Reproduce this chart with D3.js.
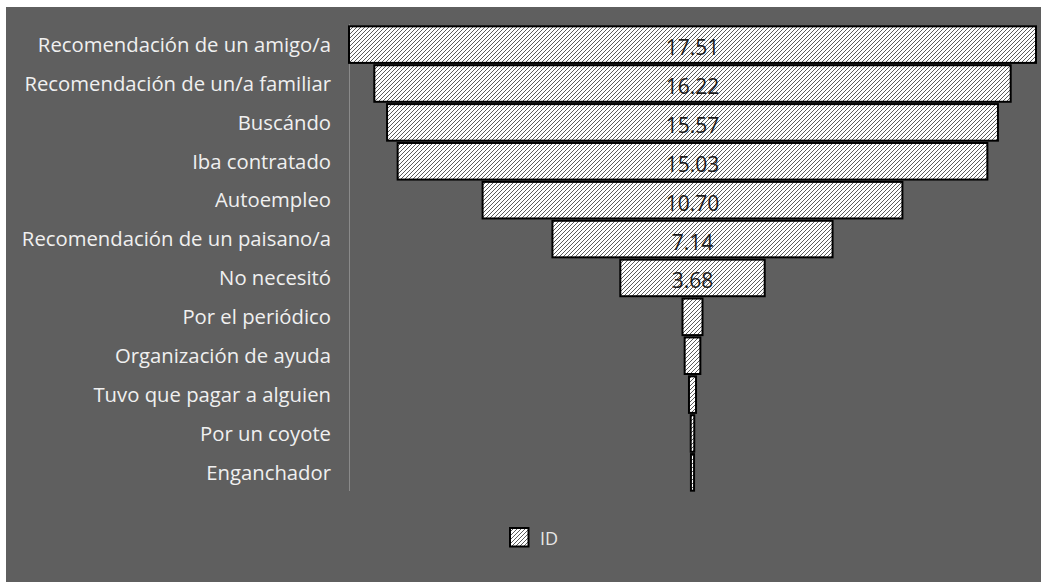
<!DOCTYPE html>
<html>
<head>
<meta charset="utf-8">
<script src="https://cdn.jsdelivr.net/npm/d3@7"></script>
<style>
  body { margin: 0; background: #ffffff; }
  svg text { font-family: "Open Sans", "Noto Sans", sans-serif; }
</style>
</head>
<body>
<div id="chart"></div>
<script>
// categories, top to bottom
var categories = [
    "Recomendación de un amigo/a",
    "Recomendación de un/a familiar",
    "Buscándo",
    "Iba contratado",
    "Autoempleo",
    "Recomendación de un paisano/a",
    "No necesitó",
    "Por el periódico",
    "Organización de ayuda",
    "Tuvo que pagar a alguien",
    "Por un coyote",
    "Enganchador"
];

// series "ID" values (small ones)
var values = [17.51, 16.22, 15.57, 15.03, 10.70, 7.14, 3.68, 0.51, 0.40, 0.18, 0.09, 0.08];

var seriesName = "ID";

var data = categories.map(function (c, i) { return { cat: c, value: values[i] }; });

var W = 1043, H = 582;
var margin = { top: 24, left: 349, right: 7, bottom: 89 };

var svg = d3.select("#chart").append("svg")
    .attr("width", W)
    .attr("height", H);

// hatch pattern
var defs = svg.append("defs");
var pat = defs.append("pattern")
    .attr("id", "hatch")
    .attr("patternUnits", "userSpaceOnUse")
    .attr("width", 4)
    .attr("height", 4);
pat.append("rect").attr("width", 4).attr("height", 4).attr("fill", "#ffffff");
pat.append("path")
    .attr("d", "M-1,1 l2,-2 M0,4 l4,-4 M3,5 l2,-2")
    .attr("stroke", "#4a4a4a")
    .attr("stroke-width", 0.9);

// chart background
svg.append("rect")
    .attr("x", 6).attr("y", 7)
    .attr("width", W - 8).attr("height", H - 7)
    .attr("fill", "#5f5f5f");

var maxVal = d3.max(values);
var x = d3.scaleLinear()
    .domain([-maxVal / 2, maxVal / 2])
    .range([margin.left, W - margin.right]);

var y = d3.scaleBand()
    .domain(categories)
    .range([margin.top, H - margin.bottom])
    .padding(0.06);

// vertical axis with labels
var yAxis = svg.append("g")
    .attr("transform", "translate(" + margin.left + ",0)")
    .call(d3.axisLeft(y).tickSize(0).tickPadding(18));
yAxis.select(".domain")
    .attr("stroke", "#8a8a8a")
    .attr("stroke-width", 1)
    .attr("d", "M0.5," + margin.top + "V" + (H - margin.bottom - 2));
yAxis.selectAll("text")
    .attr("fill", "#f0f0f0")
    .style("font-size", "20.3px")
    .attr("dy", "0.36em");

// bars
svg.selectAll("rect.bar")
    .data(data)
    .enter()
    .append("rect")
    .attr("class", "bar")
    .attr("x", function (d) { return x(-d.value / 2); })
    .attr("y", function (d) { return y(d.cat); })
    .attr("width", function (d) { return x(d.value / 2) - x(-d.value / 2); })
    .attr("height", y.bandwidth())
    .attr("fill", "url(#hatch)")
    .attr("stroke", "#000000")
    .attr("stroke-width", 2);

// data labels
svg.selectAll("text.lbl")
    .data(data.filter(function (d) { return d.value > 1; }))
    .enter()
    .append("text")
    .attr("class", "lbl")
    .attr("x", x(0))
    .attr("y", function (d) { return y(d.cat) + y.bandwidth() / 2 + 10.5; })
    .attr("text-anchor", "middle")
    .attr("fill", "#1a1a1a")
    .style("font-size", "21px")
    .text(function (d) { return d.value.toFixed(2); });

// legend
var leg = svg.append("g").attr("transform", "translate(510,528)");
leg.append("rect")
    .attr("width", 18.5).attr("height", 18.5)
    .attr("fill", "url(#hatch)")
    .attr("stroke", "#000000")
    .attr("stroke-width", 2);
leg.append("text")
    .attr("x", 30)
    .attr("y", 16.5)
    .attr("fill", "#e6e6e6")
    .style("font-size", "18px")
    .text(seriesName);
</script>
</body>
</html>
